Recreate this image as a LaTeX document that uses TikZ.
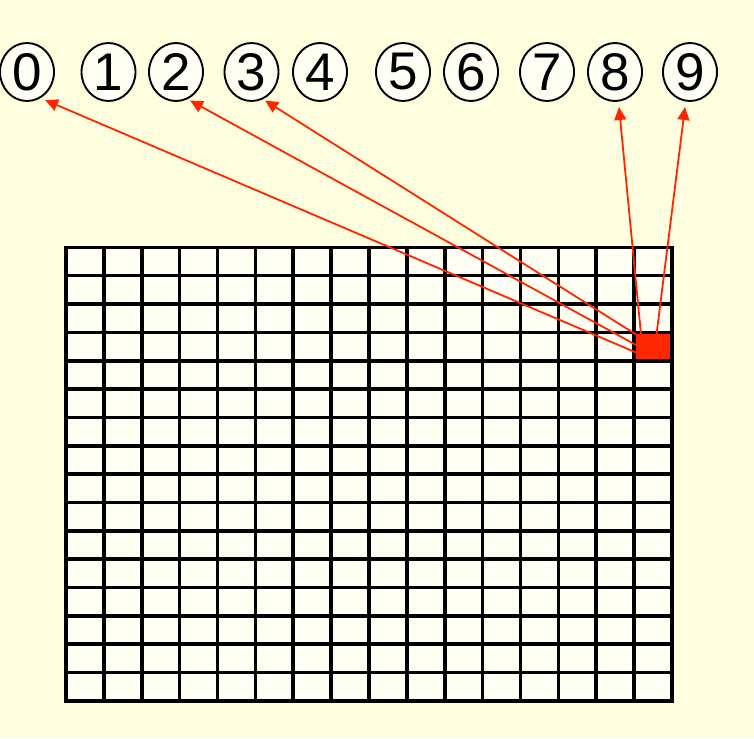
\documentclass[tikz,border=0pt]{standalone}
\usepackage{fontspec}
\setmainfont{Liberation Sans}
\usetikzlibrary{arrows.meta,shapes.geometric}
\definecolor{bg}{RGB}{255,255,224}
\definecolor{cellc}{RGB}{255,255,244}
\definecolor{hotred}{RGB}{255,38,0}
\begin{document}
\begin{tikzpicture}[x=1pt,y=-1pt,
  digit/.style={ellipse,draw=black,line width=1.9pt,fill=cellc,minimum width=54pt,minimum height=58pt,inner sep=0pt,font=\fontsize{53}{53}\selectfont},
  arr/.style={draw=hotred,line width=1.8pt,-{Triangle[length=13pt,width=12pt]}},
  gridline/.style={line width=3.6pt,black}]
\useasboundingbox (0,0) rectangle (754,738);
\fill[bg] (0,0) rectangle (754,738);
% digits
\node[digit] (d0) at (27,72) {0};
\node[digit] (d1) at (108.5,72) {1};
\node[digit] (d2) at (176,72) {2};
\node[digit] (d3) at (251.5,72) {3};
\node[digit] (d4) at (320,72) {4};
\node[digit] (d5) at (403,72) {5};
\node[digit] (d6) at (471,72) {6};
\node[digit] (d7) at (547,72) {7};
\node[digit] (d8) at (615,72) {8};
\node[digit] (d9) at (690,72) {9};
% grid
\node[draw=none,fill=cellc,inner sep=0pt,minimum width=606pt,minimum height=453.7pt,anchor=north west] (grid) at (66,247.3) {};
\node[fill=hotred,inner sep=0pt,minimum width=36pt,minimum height=27pt] (hot) at (653,346.5) {};
\foreach \i in {0,...,16}{
  \draw[gridline] ({66+\i*37.875},247.3) -- ({66+\i*37.875},701);
  \draw[gridline] (66,{247.3+\i*28.356}) -- (672,{247.3+\i*28.356});
}
\draw[gridline,line cap=rect] (grid.north west) rectangle (grid.south east);
% arrow ends
\coordinate (s0) at (636,352.5);
\coordinate (s2) at (636,345);
\coordinate (s3) at (636,334.5);
\coordinate (s8) at (641,334.5);
\coordinate (s9) at (656.5,334.5);
\coordinate (t0) at (45,100);
\coordinate (t2) at (190,100.5);
\coordinate (t3) at (265,100.5);
\coordinate (t8) at (619,107);
\coordinate (t9) at (685,107);
\draw[arr] (s0) -- (t0);
\draw[arr] (s2) -- (t2);
\draw[arr] (s3) -- (t3);
\draw[arr] (s8) -- (t8);
\draw[arr] (s9) -- (t9);
\end{tikzpicture}
\end{document}
